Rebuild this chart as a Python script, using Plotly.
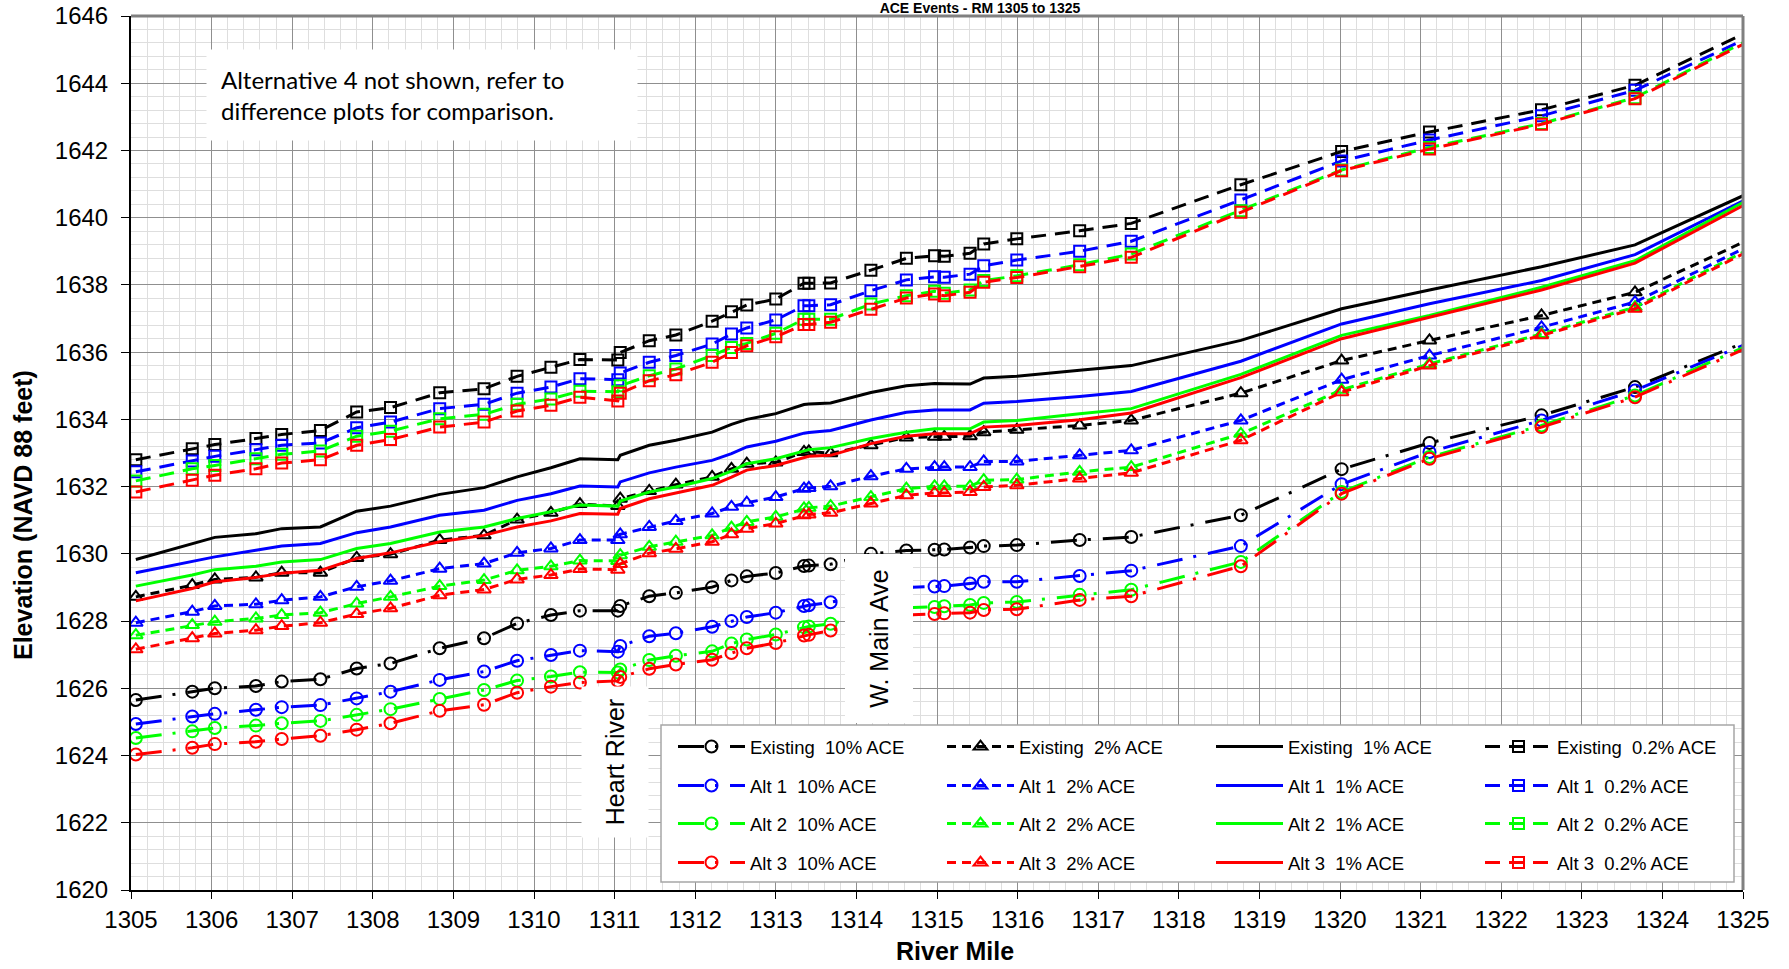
import plotly.graph_objects as go

# ---------------- data ----------------
river_mile = [1305.06, 1305.76, 1306.04, 1306.55, 1306.87, 1307.35, 1307.80, 1308.22, 1308.83, 1309.38,
              1309.79, 1310.21, 1310.57, 1311.04, 1311.07, 1311.43, 1311.76, 1312.21, 1312.45, 1312.64,
              1313.00, 1313.35, 1313.41, 1313.68, 1314.18, 1314.62, 1314.97, 1315.09, 1315.41, 1315.58,
              1315.99, 1316.77, 1317.41, 1318.77, 1320.02, 1321.11, 1322.50, 1323.66, 1325.30]

existing_10 = [1625.65, 1625.90, 1626.00, 1626.07, 1626.20, 1626.27, 1626.59, 1626.74, 1627.19, 1627.49,
               1627.93, 1628.18, 1628.31, 1628.31, 1628.45, 1628.74, 1628.84, 1629.01, 1629.21, 1629.33,
               1629.43, 1629.64, 1629.65, 1629.69, 1630.00, 1630.10, 1630.12, 1630.13, 1630.19, 1630.23,
               1630.26, 1630.41, 1630.50, 1631.15, 1632.52, 1633.30, 1634.12, 1634.96, 1636.56]
alt1_10 = [1624.94, 1625.16, 1625.24, 1625.36, 1625.44, 1625.50, 1625.70, 1625.90, 1626.25, 1626.50,
           1626.82, 1626.99, 1627.12, 1627.09, 1627.26, 1627.55, 1627.64, 1627.83, 1628.00, 1628.12,
           1628.25, 1628.45, 1628.47, 1628.56, 1628.80, 1629.00, 1629.03, 1629.04, 1629.12, 1629.17,
           1629.17, 1629.34, 1629.50, 1630.23, 1632.07, 1633.03, 1633.97, 1634.86, 1636.50]
alt2_10 = [1624.52, 1624.72, 1624.82, 1624.89, 1624.96, 1625.03, 1625.21, 1625.38, 1625.68, 1625.95,
           1626.23, 1626.35, 1626.48, 1626.47, 1626.56, 1626.84, 1626.97, 1627.10, 1627.33, 1627.45,
           1627.60, 1627.82, 1627.84, 1627.92, 1628.20, 1628.40, 1628.42, 1628.44, 1628.48, 1628.54,
           1628.57, 1628.78, 1628.93, 1629.76, 1631.84, 1632.88, 1633.82, 1634.71, 1636.45]
alt3_10 = [1624.03, 1624.23, 1624.34, 1624.41, 1624.49, 1624.59, 1624.77, 1624.96, 1625.33, 1625.51,
           1625.87, 1626.05, 1626.17, 1626.22, 1626.34, 1626.58, 1626.71, 1626.85, 1627.05, 1627.19,
           1627.35, 1627.57, 1627.59, 1627.72, 1628.00, 1628.18, 1628.21, 1628.23, 1628.25, 1628.33,
           1628.35, 1628.63, 1628.74, 1629.63, 1631.79, 1632.83, 1633.77, 1634.66, 1636.39]

existing_2 = [1628.72, 1629.07, 1629.24, 1629.30, 1629.44, 1629.44, 1629.88, 1629.99, 1630.41, 1630.55,
              1631.02, 1631.22, 1631.48, 1631.42, 1631.64, 1631.87, 1632.06, 1632.29, 1632.53, 1632.68,
              1632.72, 1633.03, 1633.05, 1632.99, 1633.23, 1633.46, 1633.48, 1633.48, 1633.50, 1633.62,
              1633.69, 1633.82, 1633.97, 1634.78, 1635.75, 1636.35, 1637.09, 1637.78, 1639.60]
alt1_2 = [1627.95, 1628.28, 1628.45, 1628.50, 1628.62, 1628.72, 1629.02, 1629.20, 1629.56, 1629.71,
          1630.03, 1630.16, 1630.41, 1630.41, 1630.58, 1630.80, 1630.98, 1631.20, 1631.40, 1631.52,
          1631.69, 1631.94, 1631.96, 1632.01, 1632.31, 1632.53, 1632.58, 1632.58, 1632.58, 1632.75,
          1632.75, 1632.93, 1633.08, 1633.97, 1635.18, 1635.90, 1636.74, 1637.49, 1639.43]
alt2_2 = [1627.58, 1627.88, 1627.98, 1628.08, 1628.18, 1628.25, 1628.52, 1628.72, 1629.04, 1629.22,
          1629.51, 1629.63, 1629.80, 1629.79, 1629.96, 1630.21, 1630.36, 1630.55, 1630.78, 1630.95,
          1631.10, 1631.35, 1631.37, 1631.42, 1631.69, 1631.94, 1632.01, 1632.01, 1632.01, 1632.19,
          1632.21, 1632.44, 1632.58, 1633.57, 1634.88, 1635.65, 1636.54, 1637.34, 1639.34]
alt3_2 = [1627.16, 1627.49, 1627.63, 1627.73, 1627.85, 1627.95, 1628.21, 1628.38, 1628.77, 1628.94,
          1629.24, 1629.37, 1629.55, 1629.53, 1629.70, 1630.02, 1630.15, 1630.36, 1630.58, 1630.75,
          1630.90, 1631.15, 1631.17, 1631.22, 1631.50, 1631.74, 1631.81, 1631.81, 1631.84, 1631.99,
          1632.04, 1632.24, 1632.41, 1633.38, 1634.81, 1635.60, 1636.50, 1637.29, 1639.29]

existing_1 = [1629.83, 1630.31, 1630.49, 1630.60, 1630.75, 1630.80, 1631.27, 1631.42, 1631.77, 1631.97,
              1632.29, 1632.56, 1632.83, 1632.80, 1632.93, 1633.23, 1633.38, 1633.62, 1633.85, 1634.00,
              1634.17, 1634.44, 1634.46, 1634.49, 1634.80, 1635.00, 1635.07, 1635.06, 1635.05, 1635.23,
              1635.28, 1635.46, 1635.60, 1636.35, 1637.29, 1637.85, 1638.54, 1639.19, 1640.98]
alt1_1 = [1629.44, 1629.76, 1629.91, 1630.11, 1630.23, 1630.31, 1630.63, 1630.80, 1631.15, 1631.30,
          1631.59, 1631.79, 1632.02, 1631.99, 1632.14, 1632.41, 1632.58, 1632.78, 1632.98, 1633.18,
          1633.35, 1633.59, 1633.61, 1633.67, 1633.98, 1634.21, 1634.28, 1634.28, 1634.28, 1634.48,
          1634.53, 1634.68, 1634.83, 1635.73, 1636.84, 1637.44, 1638.13, 1638.90, 1640.86]
alt2_1 = [1629.04, 1629.37, 1629.53, 1629.63, 1629.76, 1629.83, 1630.16, 1630.31, 1630.65, 1630.80,
          1631.05, 1631.25, 1631.45, 1631.42, 1631.57, 1631.84, 1631.99, 1632.24, 1632.46, 1632.68,
          1632.83, 1633.08, 1633.10, 1633.16, 1633.43, 1633.62, 1633.72, 1633.72, 1633.72, 1633.92,
          1633.97, 1634.17, 1634.32, 1635.34, 1636.50, 1637.09, 1637.93, 1638.72, 1640.84]
alt3_1 = [1628.60, 1628.97, 1629.17, 1629.30, 1629.42, 1629.51, 1629.86, 1630.03, 1630.36, 1630.55,
          1630.80, 1630.98, 1631.20, 1631.18, 1631.35, 1631.64, 1631.81, 1632.04, 1632.28, 1632.49,
          1632.63, 1632.88, 1632.90, 1632.93, 1633.28, 1633.50, 1633.57, 1633.57, 1633.57, 1633.77,
          1633.82, 1633.99, 1634.19, 1635.24, 1636.40, 1637.04, 1637.85, 1638.65, 1640.74]

existing_02 = [1632.80, 1633.13, 1633.25, 1633.43, 1633.55, 1633.67, 1634.22, 1634.35, 1634.79, 1634.91,
               1635.28, 1635.55, 1635.78, 1635.77, 1635.99, 1636.34, 1636.51, 1636.92, 1637.20, 1637.40,
               1637.58, 1638.05, 1638.05, 1638.06, 1638.44, 1638.79, 1638.87, 1638.85, 1638.94, 1639.22,
               1639.37, 1639.61, 1639.83, 1640.98, 1641.97, 1642.55, 1643.21, 1643.94, 1645.80]
alt1_02 = [1632.44, 1632.76, 1632.90, 1633.10, 1633.23, 1633.30, 1633.75, 1633.92, 1634.32, 1634.45,
           1634.78, 1634.96, 1635.21, 1635.18, 1635.38, 1635.70, 1635.90, 1636.24, 1636.54, 1636.72,
           1636.96, 1637.38, 1637.38, 1637.41, 1637.83, 1638.15, 1638.24, 1638.23, 1638.32, 1638.57,
           1638.74, 1639.00, 1639.30, 1640.53, 1641.69, 1642.31, 1643.03, 1643.79, 1645.61]
alt2_02 = [1632.17, 1632.53, 1632.63, 1632.83, 1632.96, 1633.06, 1633.50, 1633.65, 1634.02, 1634.15,
           1634.45, 1634.61, 1634.84, 1634.82, 1635.00, 1635.30, 1635.50, 1635.90, 1636.14, 1636.26,
           1636.56, 1636.98, 1636.98, 1636.98, 1637.43, 1637.68, 1637.81, 1637.75, 1637.85, 1638.13,
           1638.27, 1638.60, 1638.92, 1640.21, 1641.42, 1642.09, 1642.80, 1643.57, 1645.57]
alt3_02 = [1631.84, 1632.19, 1632.34, 1632.53, 1632.70, 1632.80, 1633.23, 1633.40, 1633.77, 1633.92,
           1634.25, 1634.42, 1634.66, 1634.55, 1634.78, 1635.15, 1635.33, 1635.70, 1635.99, 1636.19,
           1636.46, 1636.82, 1636.82, 1636.89, 1637.28, 1637.61, 1637.73, 1637.68, 1637.78, 1638.08,
           1638.22, 1638.54, 1638.82, 1640.16, 1641.40, 1642.04, 1642.78, 1643.54, 1645.52]

scenarios = ["Existing", "Alt 1", "Alt 2", "Alt 3"]
events = ["10%", "2%", "1%", "0.2%"]
series = {
    ("Existing", "10%"): existing_10, ("Existing", "2%"): existing_2,
    ("Existing", "1%"): existing_1, ("Existing", "0.2%"): existing_02,
    ("Alt 1", "10%"): alt1_10, ("Alt 1", "2%"): alt1_2, ("Alt 1", "1%"): alt1_1, ("Alt 1", "0.2%"): alt1_02,
    ("Alt 2", "10%"): alt2_10, ("Alt 2", "2%"): alt2_2, ("Alt 2", "1%"): alt2_1, ("Alt 2", "0.2%"): alt2_02,
    ("Alt 3", "10%"): alt3_10, ("Alt 3", "2%"): alt3_2, ("Alt 3", "1%"): alt3_1, ("Alt 3", "0.2%"): alt3_02,
}

# ---------------- styles ----------------
colors = {"Existing": "#000000", "Alt 1": "#0000FF", "Alt 2": "#00FF00", "Alt 3": "#FF0000"}
dashes = {"10%": "26px,11px,3px,12px", "2%": "9px,6px", "1%": "solid", "0.2%": "15px,9px"}
symbols = {"10%": "circle-open", "2%": "triangle-up-open", "1%": None, "0.2%": "square-open"}
msizes = {"10%": 12, "2%": 12, "1%": 0, "0.2%": 11}
legend_ids = {"Existing": "legend", "Alt 1": "legend2", "Alt 2": "legend3", "Alt 3": "legend4"}

FONT = "Liberation Sans, Arial, sans-serif"
NBSP = "\u00a0"

fig = go.Figure()
for sc in scenarios:
    for ev in events:
        c = colors[sc]
        kw = dict(
            x=river_mile, y=series[(sc, ev)],
            name=f"{sc}{NBSP} {ev} ACE",
            legend=legend_ids[sc],
            line=dict(color=c, width=3, dash=dashes[ev]),
            hoverinfo="skip",
        )
        if symbols[ev]:
            kw["mode"] = "lines+markers"
            kw["marker"] = dict(symbol=symbols[ev], size=msizes[ev], color=c, line=dict(color=c, width=2))
        else:
            kw["mode"] = "lines"
        fig.add_trace(go.Scatter(**kw))

# ---------------- layout geometry ----------------
W, H = 1789, 969
ML, MR, MT, MB = 131, 46, 16, 79
PW, PH = W - ML - MR, H - MT - MB


def px_x(px):
    return (px - ML) / PW


def px_y(py):
    return (H - MB - py) / PH


axis_common = dict(
    showgrid=True, gridcolor="#8f8f8f", gridwidth=1,
    showline=True, linecolor="black", linewidth=2,
    ticks="outside", tickcolor="black", tickwidth=1,
    tickfont=dict(family=FONT, size=24, color="black"),
    zeroline=False, automargin=False,
)
fig.update_xaxes(range=[1305, 1325], tick0=1305, dtick=1, ticklen=7,
                 minor=dict(dtick=0.2, showgrid=True, gridcolor="#dedede", gridwidth=1, ticks=""),
                 **axis_common)
fig.update_yaxes(range=[1620, 1646], tick0=1620, dtick=2, ticklen=8, ticklabelstandoff=8,
                 minor=dict(dtick=0.4, showgrid=True, gridcolor="#dedede", gridwidth=1, ticks=""),
                 **axis_common)

legend_rows_py = [747, 786, 824, 863]
legend_common = dict(
    orientation="h", xanchor="left", yanchor="middle",
    x=px_x(673), entrywidth=187, entrywidthmode="pixels", itemwidth=67,
    bgcolor="rgba(0,0,0,0)", borderwidth=0,
    font=dict(family=FONT, size=18.5, color="black"),
)
legend_layout = {}
for i, sc in enumerate(scenarios):
    legend_layout[legend_ids[sc]] = dict(y=px_y(legend_rows_py[i]), **legend_common)

shapes = [
    # legend box
    dict(type="rect", xref="paper", yref="paper", x0=px_x(661), x1=px_x(1734), y0=px_y(882), y1=px_y(725),
         fillcolor="white", line=dict(color="#a6a6a6", width=1.5), layer="above"),
    # top and right plot border (gray)
    dict(type="line", xref="paper", yref="paper", x0=0, x1=1, y0=1, y1=1,
         line=dict(color="#808080", width=3), layer="above"),
    dict(type="line", xref="paper", yref="paper", x0=1, x1=1, y0=0, y1=1,
         line=dict(color="#808080", width=3), layer="above"),
]

annotations = [
    dict(text="Alternative 4 not shown, refer to<br>difference plots for comparison.",
         xref="paper", yref="paper", x=px_x(422), y=px_y(95), xanchor="center", yanchor="middle",
         align="left", width=402, height=62, borderpad=14, bgcolor="white", showarrow=False,
         font=dict(family="Lato, Open Sans, sans-serif", size=24, color="black")),
    dict(text="Heart River", xref="paper", yref="paper", x=px_x(615), y=px_y(762),
         xanchor="center", yanchor="middle", textangle=-90, width=130, height=46, borderpad=10,
         bgcolor="white", showarrow=False, font=dict(family=FONT, size=25, color="black")),
    dict(text="W. Main Ave", xref="paper", yref="paper", x=px_x(878.5), y=px_y(639),
         xanchor="center", yanchor="middle", textangle=-90, width=148, height=47, borderpad=10,
         bgcolor="white", showarrow=False, font=dict(family=FONT, size=25, color="black")),
    dict(text="<b>Elevation (NAVD 88 feet)</b>", xref="paper", yref="paper", x=px_x(23), y=px_y(515),
         xanchor="center", yanchor="middle", textangle=-90, showarrow=False, borderpad=0,
         font=dict(family=FONT, size=25, color="black")),
    dict(text="<b>River Mile</b>", xref="paper", yref="paper", x=px_x(955), y=px_y(951),
         xanchor="center", yanchor="middle", showarrow=False, borderpad=0,
         font=dict(family=FONT, size=25, color="black")),
]

fig.update_layout(
    width=W, height=H,
    margin=dict(l=ML, r=MR, t=MT, b=MB, pad=0, autoexpand=False),
    paper_bgcolor="white", plot_bgcolor="white",
    title=dict(text="<b>ACE Events - RM 1305 to 1325</b>", xref="container", yref="container",
               x=980 / W, xanchor="center", y=1 - 3 / H, yanchor="top", pad=dict(t=0, b=0),
               font=dict(family=FONT, size=14, color="black")),
    showlegend=True,
    shapes=shapes,
    annotations=annotations,
    **legend_layout,
)

fig.write_html("out.html", config={"displayModeBar": False},
               post_script="document.body.style.margin='0';document.body.style.overflow='hidden';")
